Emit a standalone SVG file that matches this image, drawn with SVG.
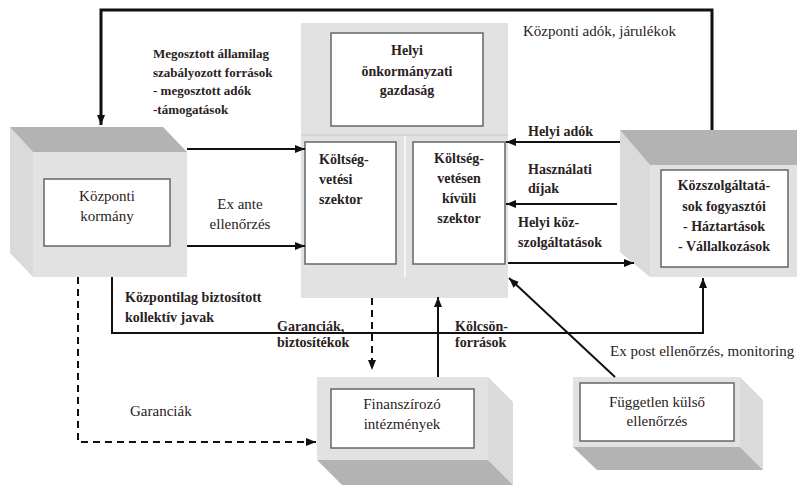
<svg xmlns="http://www.w3.org/2000/svg" width="797" height="485" viewBox="0 0 797 485">
<defs>
<marker id="arr" viewBox="0 0 10 8" refX="10" refY="4" markerWidth="10" markerHeight="8" markerUnits="userSpaceOnUse" orient="auto">
<path d="M0,0 L10,4 L0,8 z" fill="#111"/>
</marker>
<style>
.face{fill:#e2e2e2}
.side{fill:#dadada}
.top{fill:#b3b3b3}
.inner{fill:#fff;stroke:#666;stroke-width:1.5}
text{font-family:"Liberation Serif","Times New Roman",serif;fill:#2a2222}
.b{font-size:14px;font-weight:bold}
.r{font-size:15px}
.s{font-size:13px;font-weight:bold}
.c{text-anchor:middle}
.ln{fill:none;stroke:#111;stroke-width:2}
.dash{fill:none;stroke:#111;stroke-width:2;stroke-dasharray:7,5}
</style>
</defs>
<rect width="797" height="485" fill="#fff"/>

<g id="helyi">
<rect x="301" y="23" width="207" height="275" class="face"/>
<line x1="301" y1="135" x2="508" y2="135" stroke="#cfcfcf" stroke-width="1.5"/>
<line x1="405" y1="136" x2="405" y2="277" stroke="#f6f6f6" stroke-width="2"/>
<rect x="331" y="33" width="152" height="93" class="inner"/>
<text class="b c" x="407" y="55">Helyi</text>
<text class="b c" x="407" y="76">önkormányzati</text>
<text class="b c" x="407" y="95">gazdaság</text>
</g>

<g id="koltsegvetesi">
<rect x="305" y="142" width="91" height="122" class="inner"/>
<text class="b" x="319" y="164">Költség-</text>
<text class="b" x="319" y="184">vetési</text>
<text class="b" x="319" y="204">szektor</text>
</g>

<g id="kivuli">
<rect x="413" y="142" width="92" height="122" class="inner"/>
<text class="b c" x="459" y="163">Költség-</text>
<text class="b c" x="459" y="183">vetésen</text>
<text class="b c" x="459" y="203">kívüli</text>
<text class="b c" x="459" y="223">szektor</text>
</g>

<g id="kozponti">
<polygon points="10,127 33,152 33,277 10,253" class="side"/>
<polygon points="10,127 163,127 187,152 33,152" class="top"/>
<rect x="33" y="152" width="154" height="125" class="face"/>
<rect x="44" y="179" width="126" height="67" class="inner"/>
<text class="r c" x="107" y="201">Központi</text>
<text class="r c" x="107" y="221">kormány</text>
</g>

<g id="fogyasztok">
<polygon points="620,130 650,165 650,277 620,252" class="side"/>
<polygon points="620,130 797,130 797,165 650,165" class="top"/>
<rect x="650" y="165" width="147" height="112" class="face"/>
<rect x="661" y="170" width="127" height="97" class="inner"/>
<text class="b c" x="724" y="190">Közszolgáltatá-</text>
<text class="b c" x="724" y="211">sok fogyasztói</text>
<text class="b c" x="724" y="231">- Háztartások</text>
<text class="b c" x="724" y="251">- Vállalkozások</text>
</g>

<g id="finanszirozo">
<polygon points="488,377 513,402 513,485 488,460" class="side"/>
<polygon points="317,460 488,460 513,485 342,485" class="top"/>
<rect x="317" y="377" width="171" height="83" class="face"/>
<rect x="331" y="389" width="143" height="59" class="inner"/>
<text class="r c" x="402" y="409">Finanszírozó</text>
<text class="r c" x="402" y="429">intézmények</text>
</g>

<g id="fuggetlen">
<polygon points="740,377 763,400 763,470 740,447" class="side"/>
<polygon points="573,447 740,447 763,470 597,470" class="top"/>
<rect x="573" y="377" width="167" height="70" class="face"/>
<rect x="580" y="383" width="154" height="58" class="inner"/>
<text class="r c" x="657" y="407">Független külső</text>
<text class="r c" x="657" y="426">ellenőrzés</text>
</g>

<g id="connectors">
<polyline points="712,130 712,10 101,10 101,125" class="ln" style="stroke-width:3" marker-end="url(#arr)"/>
<line x1="187" y1="149" x2="305" y2="149" class="ln" marker-end="url(#arr)"/>
<line x1="187" y1="246" x2="305" y2="246" class="ln" marker-end="url(#arr)"/>
<line x1="620" y1="142" x2="506" y2="142" class="ln" marker-end="url(#arr)"/>
<line x1="617" y1="204" x2="506" y2="204" class="ln" marker-end="url(#arr)"/>
<line x1="508" y1="263" x2="634" y2="263" class="ln" marker-end="url(#arr)"/>
<polyline points="112,277 112,333 703,333 703,278" class="ln" marker-end="url(#arr)"/>
<polyline points="78,277 78,442 316,442" class="dash" marker-end="url(#arr)"/>
<line x1="372" y1="298" x2="372" y2="370" class="dash" marker-end="url(#arr)"/>
<line x1="438" y1="377" x2="438" y2="297" class="ln" marker-end="url(#arr)"/>
<line x1="615" y1="377" x2="509" y2="278" class="ln" marker-end="url(#arr)"/>
</g>

<g id="labels">
<text class="s" x="153" y="58">Megosztott államilag</text>
<text class="s" x="153" y="77">szabályozott források</text>
<text class="s" x="153" y="95">- megosztott adók</text>
<text class="s" x="153" y="114">-támogatások</text>
<text class="r" x="523" y="36">Központi adók, járulékok</text>
<text class="r c" x="240" y="209">Ex ante</text>
<text class="r c" x="240" y="229">ellenőrzés</text>
<text class="b" x="528" y="136">Helyi adók</text>
<text class="b" x="528" y="174">Használati</text>
<text class="b" x="528" y="193">díjak</text>
<text class="b" x="518" y="227">Helyi köz-</text>
<text class="b" x="518" y="247">szolgáltatások</text>
<text class="b" x="125" y="302">Központilag biztosított</text>
<text class="b" x="125" y="322">kollektív javak</text>
<text class="b" x="277" y="331">Garanciák,</text>
<text class="b" x="277" y="347">biztosítékok</text>
<text class="b" x="455" y="331">Kölcsön-</text>
<text class="b" x="455" y="347">források</text>
<text class="r" x="610" y="356">Ex post ellenőrzés, monitoring</text>
<text class="r" x="130" y="416">Garanciák</text>
</g>
</svg>
